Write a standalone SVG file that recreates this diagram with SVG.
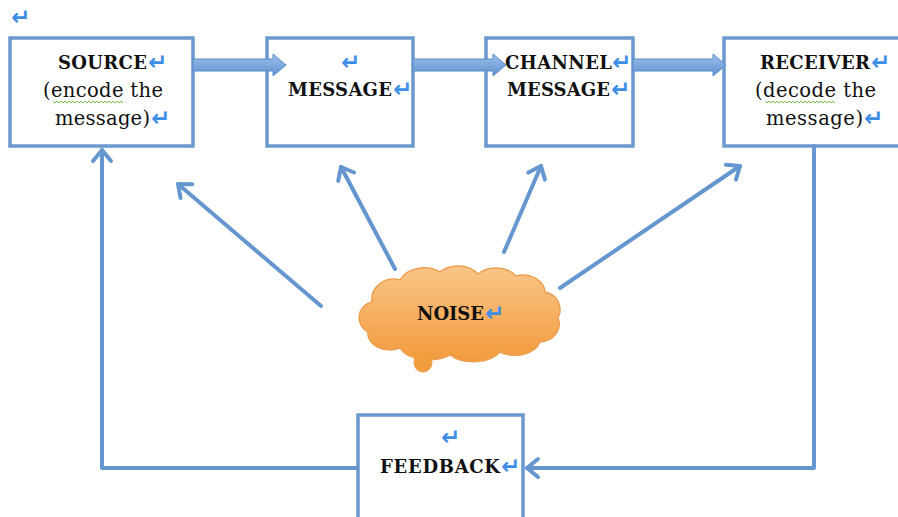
<svg xmlns="http://www.w3.org/2000/svg" width="898" height="517" viewBox="0 0 898 517">
<defs>
<style>
.box{fill:#fff;stroke:#6b99cf;stroke-width:3.5}
.ln{fill:none;stroke:#6596cf;stroke-width:4;stroke-linecap:round;stroke-linejoin:round}
.blk{fill:url(#bg);stroke:#5a8cc9;stroke-width:1}
.t{font-family:"DejaVu Serif","Liberation Serif",serif;font-size:18px;fill:#111}
.n{font-size:19.5px}
.b{font-weight:bold}
.r{font-family:"DejaVu Sans",sans-serif;font-size:23px;font-weight:bold;fill:#3d8ee6}
.wv{fill:none;stroke:#7cc050;stroke-width:1}
</style>
<linearGradient id="bg" x1="0" y1="0" x2="0" y2="1">
<stop offset="0" stop-color="#9dc1ec"/>
<stop offset="1" stop-color="#5f91d0"/>
</linearGradient>
<linearGradient id="cg" x1="0" y1="0" x2="0" y2="1">
<stop offset="0" stop-color="#f9c688"/>
<stop offset="1" stop-color="#f29a3c"/>
</linearGradient>
<marker id="ah" markerUnits="userSpaceOnUse" markerWidth="24" markerHeight="24" viewBox="0 0 24 24" refX="20" refY="12" orient="auto">
<path d="M9,3 L20,12 L9,21" fill="none" stroke="#6596cf" stroke-width="4" stroke-linecap="round" stroke-linejoin="round"/>
</marker>
</defs>

<text class="r" x="11" y="25">↵</text>

<g id="source">
<rect class="box" x="10" y="38" width="183" height="108"/>
<text class="t b" x="58" y="69" textLength="89">SOURCE</text>
<text class="r" x="148" y="70">↵</text>
<text class="t n" x="43" y="97" textLength="120">(encode the</text>
<path class="wv" d="M53,101 l2,2 l2,-2 l2,2 l2,-2 l2,2 l2,-2 l2,2 l2,-2 l2,2 l2,-2 l2,2 l2,-2 l2,2 l2,-2 l2,2 l2,-2 l2,2 l2,-2 l2,2 l2,-2 l2,2 l2,-2 l2,2 l2,-2 l2,2 l2,-2 l2,2 l2,-2 l2,2 l2,-2 l2,2 l2,-2 l2,2 l2,-2 l2,2"/>
<text class="t n" x="55" y="125" textLength="95">message)</text>
<text class="r" x="151" y="126">↵</text>
</g>

<g id="message">
<rect class="box" x="267" y="38" width="146" height="108"/>
<text class="r" x="341" y="70">↵</text>
<text class="t b" x="288" y="96" textLength="104">MESSAGE</text>
<text class="r" x="393" y="97">↵</text>
</g>

<g id="channel">
<rect class="box" x="486" y="38" width="147" height="108"/>
<text class="t b" x="505" y="69" textLength="107">CHANNEL</text>
<text class="r" x="612" y="70">↵</text>
<text class="t b" x="507" y="96" textLength="103">MESSAGE</text>
<text class="r" x="611" y="97">↵</text>
</g>

<g id="receiver">
<rect class="box" x="724" y="38" width="190" height="108"/>
<text class="t b" x="760" y="69" textLength="110">RECEIVER</text>
<text class="r" x="871" y="70">↵</text>
<text class="t n" x="755" y="97" textLength="121">(decode the</text>
<path class="wv" d="M765,101 l2,2 l2,-2 l2,2 l2,-2 l2,2 l2,-2 l2,2 l2,-2 l2,2 l2,-2 l2,2 l2,-2 l2,2 l2,-2 l2,2 l2,-2 l2,2 l2,-2 l2,2 l2,-2 l2,2 l2,-2 l2,2 l2,-2 l2,2 l2,-2 l2,2 l2,-2 l2,2 l2,-2 l2,2 l2,-2 l2,2 l2,-2 l2,2"/>
<text class="t n" x="766" y="125" textLength="97">message)</text>
<text class="r" x="864" y="126">↵</text>
</g>

<g id="noise">
<path d="M372,302 A22,20 0 0 1 400,280 A26,20 0 0 1 440,272 A24,18 0 0 1 478,274 A24,18 0 0 1 516,276 A22,18 0 0 1 545,292 A18,18 0 0 1 558,318 A20,18 0 0 1 540,342 A26,18 0 0 1 500,352 A30,18 0 0 1 450,355 A30,16 0 0 1 400,348 A22,16 0 0 1 368,332 A16,16 0 0 1 372,302 Z" fill="url(#cg)" stroke="#eea052" stroke-width="1.5"/>
<circle cx="423" cy="363" r="9" fill="#f29c40" stroke="#eea052" stroke-width="1"/>
<path d="M414,352 Q423,356 432,352 L432,360 L414,360 Z" fill="#f29c40"/>
<text class="t b" x="417" y="320" textLength="67">NOISE</text>
<text class="r" x="485" y="321">↵</text>
</g>

<g id="feedback">
<rect class="box" x="358" y="415" width="165" height="110"/>
<text class="r" x="441" y="445">↵</text>
<text class="t b" x="380" y="473" textLength="120">FEEDBACK</text>
<text class="r" x="501" y="474">↵</text>
</g>

<g id="connectors">
<path class="blk" d="M193,59 L273,59 L273,54 L286,65 L273,76 L273,71 L193,71 Z"/>
<path class="blk" d="M413,59 L493,59 L493,54 L506,65 L493,76 L493,71 L413,71 Z"/>
<path class="blk" d="M633,59 L713,59 L713,54 L726,65 L713,76 L713,71 L633,71 Z"/>
<path class="ln" d="M814,146 L814,468 L527,468" marker-end="url(#ah)"/>
<path class="ln" d="M357,468 L102,468 L102,150" marker-end="url(#ah)"/>
<path class="ln" d="M321,306 L178,184" marker-end="url(#ah)"/>
<path class="ln" d="M395,269 L341,167" marker-end="url(#ah)"/>
<path class="ln" d="M504,252 L541,166" marker-end="url(#ah)"/>
<path class="ln" d="M560,288 L740,166" marker-end="url(#ah)"/>
</g>
</svg>
